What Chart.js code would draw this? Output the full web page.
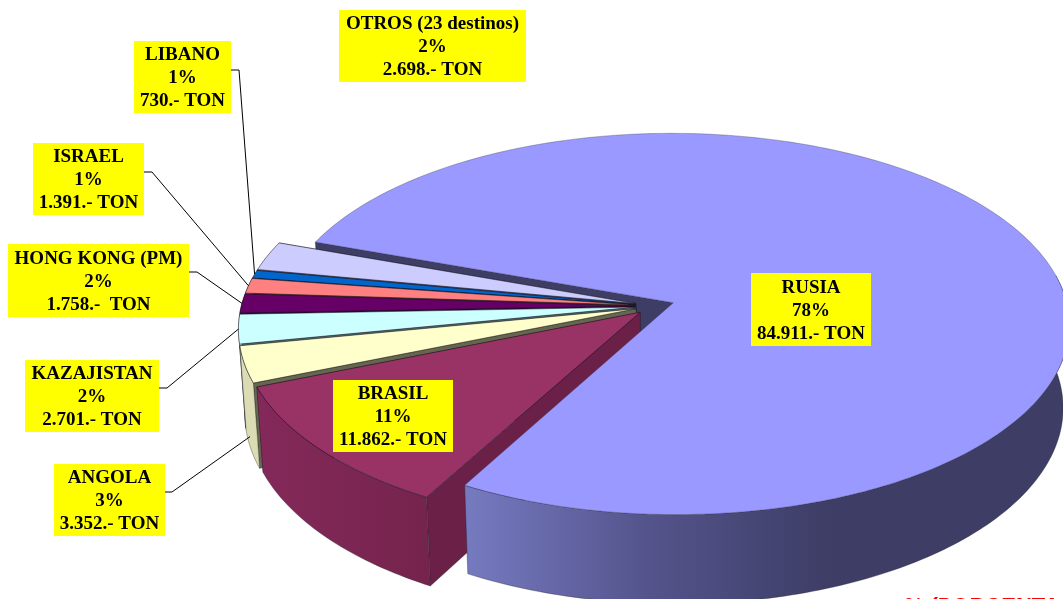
<!DOCTYPE html>
<html lang="es">
<head>
    <meta charset="UTF-8">
    <title>Destinos</title>
    <script src="https://cdn.jsdelivr.net/npm/chart.js"></script>
    <style>
        html, body { margin: 0; padding: 0; background: #fff; overflow: hidden; }
        #chartBox { position: relative; width: 1063px; height: 599px; }
    </style>
</head>
<body>
    <div id="chartBox"><canvas id="pieChart"></canvas></div>

    <script>
        // data, clockwise from the big slice
        const destinos = ['RUSIA', 'BRASIL', 'ANGOLA', 'KAZAJISTAN', 'HONG KONG (PM)', 'ISRAEL', 'LIBANO', 'OTROS (23 destinos)'];
        const toneladas = [84911, 11862, 3352, 2701, 1758, 1391, 730, 2698];
        const porcentajes = ['78%', '11%', '3%', '2%', '2%', '1%', '1%', '2%'];
        const tonLabels = ['84.911.- TON', '11.862.- TON', '3.352.- TON', '2.701.- TON', '1.758.-  TON', '1.391.- TON', '730.- TON', '2.698.- TON'];

        const topColors = ['#9999ff', '#993366', '#ffffcc', '#ccffff', '#660066', '#ff8080', '#0066cc', '#ccccff'];
        const wallColors = ['#3d3d66', '#6b2147', '#66664f', '#5a7070', '#330033', '#804040', '#003366', '#66667f'];
        const rimStops = [
            ['#767ac0', '#3d3d66'],
            ['#84295a', '#75244d'],
            ['#dcdcb4', '#dcdcb4'],
            ['#a8c8c8', '#a8c8c8'],
            ['#4d004d', '#4d004d'],
            ['#c06060', '#c06060'],
            ['#004c99', '#004c99'],
            ['#9999c0', '#9999c0']
        ];

        // label boxes [left, top, right, bottom], order as in destinos
        const boxes = [
            [751, 273, 871, 346], [333, 380, 453, 452], [54, 464, 165, 536], [25, 360, 159, 432],
            [8, 244, 189, 317], [33, 143, 144, 215], [134, 41, 231, 113], [339, 10, 526, 82]
        ];
        // leader lines: box side, knee, depth of the end on the wall (null = no leader)
        const leaders = [
            null, null,
            { from: [165, 492], knee: [172, 492], depth: 0.85 },
            { from: [159, 388], knee: [167, 388], depth: 0 },
            { from: [189, 272], knee: [197, 272], depth: 0 },
            { from: [144, 172], knee: [152, 172], depth: 0 },
            { from: [231, 70], knee: [239, 70], depth: 0 },
            null
        ];

        // 3D look of the pie
        const STRETCH = 394 / 189;  // the flat disc is wider than it is high
        const TILT = 0.112;         // near side bigger than far side
        const DEPTH = 84 / 189;     // wall height, in radii
        const DEPTH_SHRINK = 0.015;
        const EXPLODE = 0.05;       // every slice is pulled out a bit
        const STEP = Math.PI / 180;

        function project(el, angle, radius, depth) {
            const mid = (el.startAngle + el.endAngle) / 2;
            const X = radius * Math.cos(angle) + EXPLODE * Math.cos(mid);
            const Y = radius * Math.sin(angle) + EXPLODE * Math.sin(mid);
            const w = 1 - TILT * Y + DEPTH_SHRINK * depth;
            const R = el.outerRadius;
            return [el.x + STRETCH * R * X / w, el.y + R * (Y + DEPTH * depth) / w];
        }

        function rimAngles(el) {
            const list = [];
            for (let a = el.startAngle; a < el.endAngle; a += STEP) list.push(a);
            list.push(el.endAngle);
            return list;
        }

        function fillPath(ctx, points, fill, stroke, lineWidth) {
            ctx.beginPath();
            points.forEach((p, i) => i ? ctx.lineTo(p[0], p[1]) : ctx.moveTo(p[0], p[1]));
            ctx.closePath();
            ctx.fillStyle = fill;
            ctx.fill();
            if (stroke) {
                ctx.lineWidth = lineWidth;
                ctx.strokeStyle = stroke;
                ctx.stroke();
            }
        }

        function drawRadialWall(ctx, el, angle, color) {
            fillPath(ctx, [
                project(el, angle, 0, 0), project(el, angle, 1, 0),
                project(el, angle, 1, 1), project(el, angle, 0, 1)
            ], color, 'rgba(30,30,40,0.6)', 0.6);
        }

        function drawRimWall(ctx, el, i) {
            // only the part of the rim that faces the viewer
            const angles = rimAngles(el).filter(a => Math.sin(a) > -0.15);
            if (angles.length < 2) return;
            const top = angles.map(a => project(el, a, 1, 0));
            const bottom = angles.map(a => project(el, a, 1, 1)).reverse();
            let fill = rimStops[i][0];
            if (i === 0) {
                const g = ctx.createLinearGradient(465, 0, 830, 0);
                g.addColorStop(0, rimStops[i][0]);
                g.addColorStop(0.5, '#54548c');
                g.addColorStop(1, rimStops[i][1]);
                fill = g;
            } else if (i === 1) {
                const g = ctx.createLinearGradient(255, 0, 430, 0);
                g.addColorStop(0, rimStops[i][0]);
                g.addColorStop(1, rimStops[i][1]);
                fill = g;
            }
            fillPath(ctx, top.concat(bottom), fill, 'rgba(30,30,40,0.6)', 0.6);
        }

        function drawTop(ctx, el, i) {
            const rim = rimAngles(el).map(a => project(el, a, 1, 0));
            const apex = project(el, el.startAngle, 0, 0);
            fillPath(ctx, [apex].concat(rim), topColors[i], i === 0 ? 'rgba(60,60,90,0.5)' : 'rgba(20,20,30,0.75)', 0.7);
        }

        function drawSlice(ctx, el, i) {
            drawRadialWall(ctx, el, el.endAngle, wallColors[i]);
            drawRadialWall(ctx, el, el.startAngle, wallColors[i]);
            drawRimWall(ctx, el, i);
            drawTop(ctx, el, i);
        }

        const pie3d = {
            id: 'pie3d',
            beforeDatasetDraw(chart, args) {
                const ctx = chart.ctx;
                const arcs = args.meta.data;
                ctx.save();
                ctx.lineJoin = 'round';
                // back wall of the big slice, then the small ones back to front, big slice last
                drawRadialWall(ctx, arcs[0], arcs[0].startAngle, wallColors[0]);
                for (let i = arcs.length - 1; i > 0; i--) drawSlice(ctx, arcs[i], i);
                drawRimWall(ctx, arcs[0], 0);
                drawTop(ctx, arcs[0], 0);
                ctx.restore();
                return false;
            },
            afterDatasetsDraw(chart) {
                const ctx = chart.ctx;
                const arcs = chart.getDatasetMeta(0).data;
                ctx.save();

                leaders.forEach((l, i) => {
                    if (!l) return;
                    const el = arcs[i];
                    const end = project(el, (el.startAngle + el.endAngle) / 2, 1, l.depth);
                    ctx.beginPath();
                    ctx.moveTo(l.from[0], l.from[1]);
                    ctx.lineTo(l.knee[0], l.knee[1]);
                    ctx.lineTo(end[0], end[1]);
                    ctx.lineWidth = 1;
                    ctx.strokeStyle = '#000';
                    ctx.stroke();
                });

                ctx.textAlign = 'center';
                ctx.textBaseline = 'middle';
                ctx.font = 'bold 19px "Liberation Serif", serif';
                destinos.forEach((name, i) => {
                    const b = boxes[i];
                    const cx = (b[0] + b[2]) / 2;
                    const cy = (b[1] + b[3]) / 2 + 1.5;
                    ctx.fillStyle = '#ffff00';
                    ctx.fillRect(b[0], b[1], b[2] - b[0], b[3] - b[1]);
                    ctx.fillStyle = '#000';
                    ctx.fillText(name, cx, cy - 23);
                    ctx.fillText(porcentajes[i], cx, cy);
                    ctx.fillText(tonLabels[i], cx, cy + 23);
                });

                // title of the next block, cut by the bottom edge in the original
                ctx.textAlign = 'left';
                ctx.textBaseline = 'alphabetic';
                ctx.font = 'italic bold 22px "Liberation Sans", sans-serif';
                ctx.fillStyle = '#ff0000';
                ctx.fillText('% (PORCENTAJE)', 903, 613);
                ctx.restore();
            }
        };

        new Chart(document.getElementById('pieChart'), {
            type: 'pie',
            data: {
                labels: destinos,
                datasets: [{
                    data: toneladas,
                    backgroundColor: topColors,
                    borderWidth: 0
                }]
            },
            options: {
                responsive: true,
                maintainAspectRatio: false,
                animation: false,
                rotation: -70.5,
                layout: { padding: { top: 117, bottom: 104, left: 247, right: 0 } },
                plugins: { legend: { display: false }, tooltip: { enabled: false } }
            },
            plugins: [pie3d]
        });
    </script>
</body>
</html>
